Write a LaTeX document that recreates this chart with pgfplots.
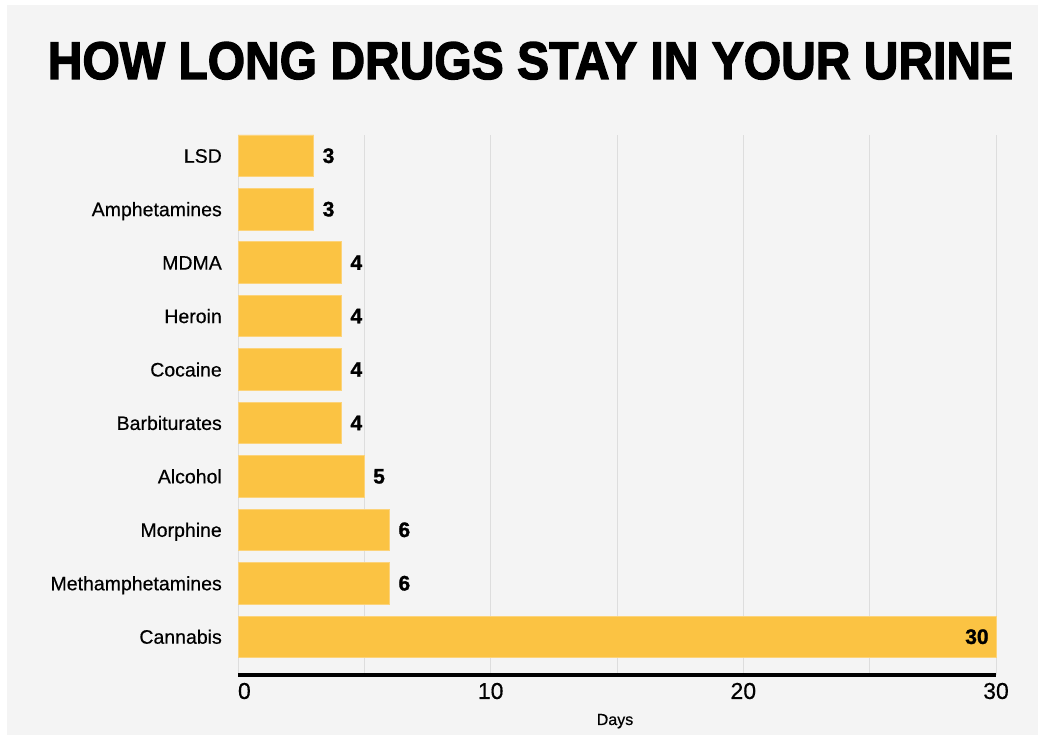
\documentclass[border=0pt]{standalone}
\usepackage{graphicx}
\usepackage{pgfplots}
\pgfplotsset{compat=1.18}
\usepackage{pgfplotstable}
\usepackage{fontspec}
\setmainfont{Liberation Sans}
\newfontfamily\medium{Liberation Sans}[FakeBold=0.5]
\newfontfamily\heavy{Liberation Sans}[FakeBold=1.2]
\newfontfamily\titlefont{Liberation Sans}[FakeBold=2.6]
\definecolor{bg}{RGB}{244,244,244}
\definecolor{barc}{RGB}{251,195,67}
\definecolor{baredge}{RGB}{252,211,122}
\definecolor{gridc}{RGB}{221,221,221}

\pgfplotstableread{
y x lab
1 6 6
2 6 6
3 5 5
4 4.1 4
5 4.1 4
6 4.1 4
7 4.1 4
8 3 3
9 3 3
}\drugdata

\begin{document}
\begin{tikzpicture}[x=1pt,y=1pt]
\useasboundingbox (0pt,0pt) rectangle (1038pt,735pt);
\fill[white] (0pt,0pt) rectangle (1038pt,735pt);
\fill[bg] (7pt,0pt) rectangle (1038pt,730pt);
\node[anchor=base, inner sep=0pt] at (530.5pt,656pt)
  {\resizebox{965pt}{37pt}{\titlefont\bfseries HOW LONG DRUGS STAY IN YOUR URINE}};
\begin{axis}[
  at={(238pt,60.3pt)}, anchor=south west,
  scale only axis, width=758pt, height=539.7pt,
  xmin=0, xmax=30, ymin=-0.711, ymax=9.388,
  xbar, bar shift=0pt, bar width=41.5pt,
  clip=false,
  axis line style={draw=none},
  tick style={draw=none},
  major tick length=0pt, minor tick length=0pt,
  xtick={0,10,20,30}, minor xtick={5,15,25},
  xticklabels={\makebox[0pt][l]{0},10,20,30},
  xmajorgrids, xminorgrids,
  major grid style={gridc, line width=1pt},
  minor grid style={gridc, line width=1pt},
  ytick={0,...,9},
  yticklabels={Cannabis,Methamphetamines,Morphine,Alcohol,Barbiturates,Cocaine,Heroin,MDMA,Amphetamines,LSD},
  xticklabel style={font=\medium\fontsize{23}{23}\selectfont, inner sep=0pt, anchor=north, yshift=-8pt},
  yticklabel style={font=\medium\fontsize{19.5}{20}\selectfont, inner sep=0pt, anchor=base east, xshift=-16pt, yshift=-7pt},
  xlabel={Days},
  xlabel style={font=\medium\fontsize{16}{16}\selectfont, at={(axis description cs:0.5,0)}, anchor=base, inner sep=0pt, yshift=-50.3pt, xshift=-2pt},
]
\addplot[fill=barc, draw=baredge, line width=0.8pt,
  nodes near coords, point meta=explicit symbolic,
  nodes near coords style={anchor=west, inner sep=0pt, xshift=8.5pt, font=\heavy\bfseries\fontsize{21}{21}\selectfont}]
  table[x=x, y=y, meta=lab] {\drugdata};
\addplot[fill=barc, draw=baredge, line width=0.8pt,
  nodes near coords, point meta=explicit symbolic,
  nodes near coords style={anchor=east, inner sep=0pt, xshift=-7pt, font=\heavy\bfseries\fontsize{21}{21}\selectfont}]
  coordinates {(30,0) [30]};
\draw[black, line width=4pt] (rel axis cs:0,0) -- (rel axis cs:1,0);
\end{axis}
\end{tikzpicture}
\end{document}
